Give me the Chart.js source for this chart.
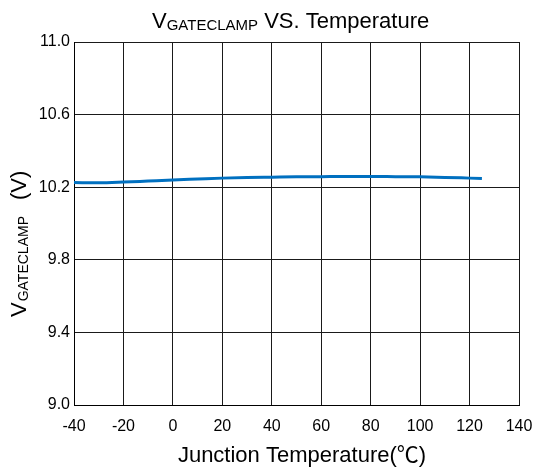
<!DOCTYPE html>
<html>
<head>
<meta charset="utf-8">
<script src="https://cdn.jsdelivr.net/npm/chart.js@4.4.1/dist/chart.umd.min.js"></script>
<style>
  html, body { margin: 0; padding: 0; background: #fff; }
  #wrap { width: 535px; height: 469px; position: relative; }
</style>
</head>
<body>
<div id="wrap"><canvas id="c" width="535" height="469"></canvas></div>
<script>
// Data
const temperatures = [-40, -30, -20, -10, 0, 10, 20, 30, 40, 50, 60, 70, 80, 90, 100, 110, 120, 125];
const vGateClamp  = [10.226, 10.224, 10.228, 10.234, 10.240, 10.245, 10.250, 10.253, 10.255, 10.257, 10.258, 10.259, 10.259, 10.258, 10.257, 10.254, 10.250, 10.248];
const xTicks = [-40, -20, 0, 20, 40, 60, 80, 100, 120, 140];
const yTicks = [9.0, 9.4, 9.8, 10.2, 10.6, 11.0];

const FONT = "'Liberation Sans', Arial, 'Noto Sans CJK SC', sans-serif";

const textPlugin = {
  id: 'customText',
  afterDraw(chart) {
    const ctx = chart.ctx;
    ctx.save();
    ctx.fillStyle = '#000';
    ctx.textBaseline = 'alphabetic';
    ctx.textAlign = 'left';
    // Title: V_GATECLAMP VS. Temperature
    let x = 152;
    ctx.font = '22px ' + FONT;
    ctx.fillText('V', x, 28);
    x += ctx.measureText('V').width;
    ctx.font = '15px ' + FONT;
    ctx.fillText('GATECLAMP', x, 30);
    x += ctx.measureText('GATECLAMP').width;
    ctx.font = '22px ' + FONT;
    ctx.fillText(' VS. Temperature', x, 28);

    // X axis title
    ctx.font = '22px ' + FONT;
    ctx.textAlign = 'center';
    ctx.fillText('Junction Temperature(\u2103)', 302, 462);

    // Y axis title (rotated)
    ctx.translate(26, 317);
    ctx.rotate(-Math.PI / 2);
    ctx.textAlign = 'left';
    let p = 0;
    ctx.font = '22px ' + FONT;
    ctx.fillText('V', p, 0);
    p += ctx.measureText('V').width + 1;
    ctx.font = '14px ' + FONT;
    ctx.fillText('GATECLAMP', p, 2);
    p += ctx.measureText('GATECLAMP').width + 16;
    ctx.font = '22px ' + FONT;
    ctx.fillText('(V)', p, 0);
    ctx.restore();
  }
};

new Chart(document.getElementById('c'), {
  type: 'line',
  data: {
    datasets: [{
      data: temperatures.map((t, i) => ({ x: t, y: vGateClamp[i] })),
      borderColor: '#0070C0',
      borderWidth: 3,
      pointRadius: 0,
      fill: false,
      cubicInterpolationMode: 'monotone'
    }]
  },
  options: {
    responsive: false,
    animation: false,
    devicePixelRatio: 1,
    layout: { padding: { left: 0, top: 42, right: 16, bottom: 0 } },
    plugins: { legend: { display: false }, title: { display: false }, tooltip: { enabled: false } },
    scales: {
      x: {
        type: 'linear',
        min: -40, max: 140,
        afterFit(s) { s.height = 64; s.paddingLeft = 0; s.paddingRight = 0; },
        afterBuildTicks(s) { s.ticks = xTicks.map(v => ({ value: v })); },
        grid: { color: '#1a1a1a', lineWidth: 1, drawTicks: false },
        border: { display: true, color: '#000', width: 1 },
        ticks: { color: '#000', font: { family: FONT, size: 16 }, padding: 12, maxRotation: 0, autoSkip: false,
                 callback: v => String(v) }
      },
      y: {
        type: 'linear',
        min: 9.0, max: 11.0,
        afterFit(s) { s.width = 74; s.paddingTop = 0; s.paddingBottom = 0; },
        afterBuildTicks(s) { s.ticks = yTicks.map(v => ({ value: v })); },
        grid: { color: '#1a1a1a', lineWidth: 1, drawTicks: false },
        border: { display: true, color: '#000', width: 1 },
        ticks: { color: '#000', font: { family: FONT, size: 16 }, padding: 4,
                 callback: v => Number(v).toFixed(1) }
      }
    }
  },
  plugins: [textPlugin]
});
</script>
</body>
</html>
